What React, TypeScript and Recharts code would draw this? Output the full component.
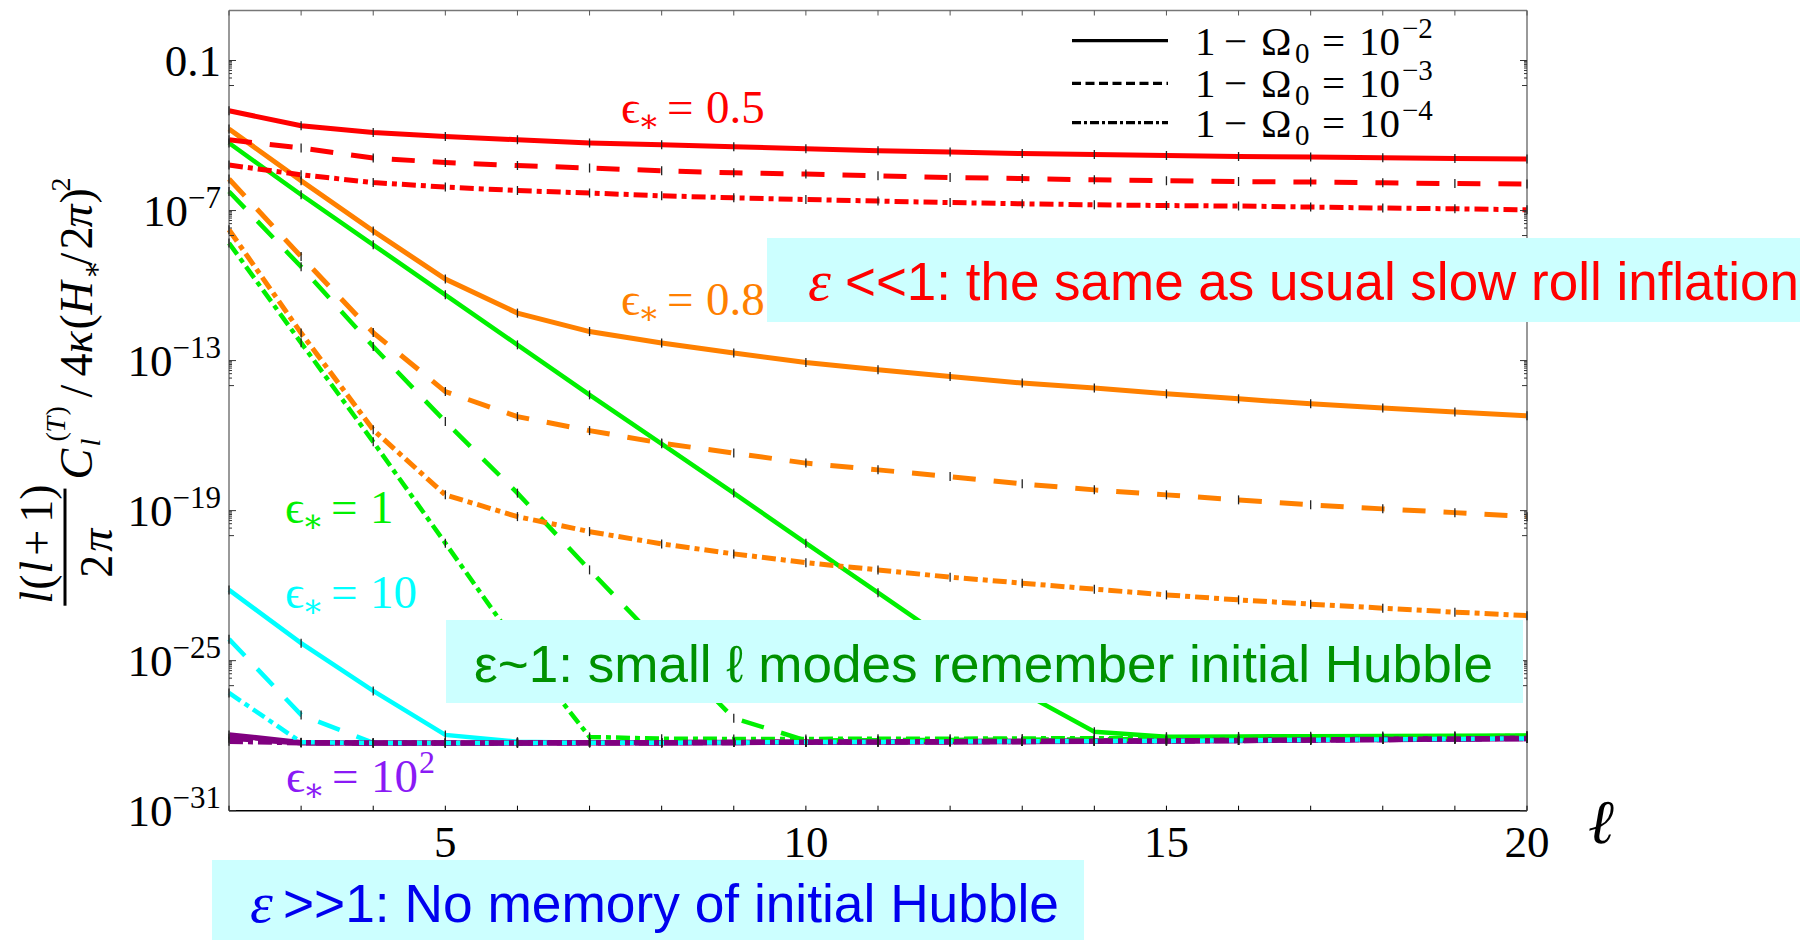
import React from "react";
import { LineChart, Line, XAxis, YAxis } from "recharts";

// multipole index
const ells = [2, 3, 4, 5, 6, 7, 8, 9, 10, 11, 12, 13, 14, 15, 16, 17, 18, 19, 20];

// log10 of l(l+1)C_l^(T)/2π / 4κ(H*/2π)^2 for each ε* and 1-Ω0
const eps05_m2 = [-3.01, -3.61, -3.88, -4.04, -4.17, -4.3, -4.37, -4.45, -4.53, -4.61, -4.66, -4.72, -4.76, -4.8, -4.84, -4.86, -4.89, -4.92, -4.94];
const eps05_m3 = [-4.17, -4.5, -4.9, -5.08, -5.2, -5.3, -5.41, -5.49, -5.54, -5.61, -5.68, -5.72, -5.77, -5.81, -5.84, -5.86, -5.89, -5.92, -5.94];
const eps05_m4 = [-5.18, -5.57, -5.88, -6.06, -6.2, -6.3, -6.41, -6.49, -6.56, -6.62, -6.68, -6.73, -6.77, -6.8, -6.82, -6.86, -6.9, -6.93, -6.97];
const eps08_m2 = [-3.74, -5.81, -7.82, -9.74, -11.1, -11.84, -12.3, -12.7, -13.08, -13.37, -13.64, -13.9, -14.1, -14.33, -14.53, -14.73, -14.9, -15.06, -15.21];
const eps08_m3 = [-5.74, -8.84, -11.88, -14.24, -15.24, -15.8, -16.3, -16.7, -17.1, -17.37, -17.64, -17.93, -18.17, -18.37, -18.57, -18.77, -18.93, -19.08, -19.24];
const eps08_m4 = [-7.77, -11.9, -15.77, -18.37, -19.24, -19.84, -20.33, -20.73, -21.08, -21.37, -21.66, -21.9, -22.14, -22.37, -22.57, -22.74, -22.9, -23.06, -23.2];
const eps1_m2 = [-4.3, -6.37, -8.37, -10.37, -12.37, -14.37, -16.33, -18.3, -20.3, -22.28, -24.27, -26.27, -27.84, -28.04, -28.03, -28.02, -28.01, -28.0, -27.99];
const eps1_m3 = [-6.24, -9.25, -12.44, -15.44, -18.3, -21.37, -24.37, -27.3, -28.19, -28.18, -28.17, -28.16, -28.15, -28.13, -28.11, -28.09, -28.07, -28.05, -28.03];
const eps1_m4 = [-8.3, -12.29, -16.25, -20.3, -24.37, -28.05, -28.12, -28.13, -28.13, -28.12, -28.12, -28.11, -28.1, -28.09, -28.08, -28.06, -28.05, -28.03, -28.01];
const eps10_m2 = [-22.17, -24.3, -26.21, -27.97, -28.24, -28.28, -28.28, -28.27, -28.26, -28.25, -28.24, -28.23, -28.22, -28.21, -28.19, -28.17, -28.15, -28.13, -28.11];
const eps10_m3 = [-24.14, -27.17, -28.29, -28.29, -28.29, -28.28, -28.28, -28.27, -28.26, -28.25, -28.24, -28.23, -28.22, -28.21, -28.19, -28.17, -28.15, -28.13, -28.11];
const eps10_m4 = [-26.29, -28.26, -28.29, -28.29, -28.29, -28.28, -28.28, -28.27, -28.26, -28.25, -28.24, -28.23, -28.22, -28.21, -28.19, -28.17, -28.15, -28.13, -28.11];
const eps100_m2 = [-27.97, -28.28, -28.29, -28.29, -28.29, -28.28, -28.28, -28.27, -28.26, -28.25, -28.24, -28.23, -28.22, -28.21, -28.19, -28.17, -28.15, -28.13, -28.11];
const eps100_m3 = [-28.1, -28.28, -28.29, -28.29, -28.29, -28.28, -28.28, -28.27, -28.26, -28.25, -28.24, -28.23, -28.22, -28.21, -28.19, -28.17, -28.15, -28.13, -28.11];
const eps100_m4 = [-28.22, -28.28, -28.29, -28.29, -28.29, -28.28, -28.28, -28.27, -28.26, -28.25, -28.24, -28.23, -28.22, -28.21, -28.19, -28.17, -28.15, -28.13, -28.11];

// labelled decades on the y axis
const yMajorExps = [-1, -7, -13, -19, -25, -31];
const xLabelTicks = [5, 10, 15, 20];
const legendExps = ["2", "3", "4"];

const RED = "#FF0000";
const ORANGE = "#FF8000";
const GREEN = "#00F000";
const CYAN = "#00FFFF";
const PURPLE = "#800080";

const DASH = "23 18";
const DOTDASH = "14 5 5 5";

const SERIF = '"Liberation Serif", "Times New Roman", "DejaVu Serif", serif';
const SANS = '"Liberation Sans", Arial, "DejaVu Sans", sans-serif';

type Series = { key: string; values: number[]; color: string; dash?: string; width: number };

// drawn solid first, then dashed, then dot-dashed
const series: Series[] = [
  { key: "r2", values: eps05_m2, color: RED, width: 5 },
  { key: "o2", values: eps08_m2, color: ORANGE, width: 5 },
  { key: "g2", values: eps1_m2, color: GREEN, width: 4.5 },
  { key: "c2", values: eps10_m2, color: CYAN, width: 4.5 },
  { key: "p2", values: eps100_m2, color: PURPLE, width: 5.5 },
  { key: "r3", values: eps05_m3, color: RED, dash: DASH, width: 5 },
  { key: "o3", values: eps08_m3, color: ORANGE, dash: DASH, width: 5 },
  { key: "g3", values: eps1_m3, color: GREEN, dash: DASH, width: 4.5 },
  { key: "c3", values: eps10_m3, color: CYAN, dash: DASH, width: 4.5 },
  { key: "p3", values: eps100_m3, color: PURPLE, dash: DASH, width: 5.5 },
  { key: "r4", values: eps05_m4, color: RED, dash: DOTDASH, width: 5 },
  { key: "o4", values: eps08_m4, color: ORANGE, dash: DOTDASH, width: 5 },
  { key: "g4", values: eps1_m4, color: GREEN, dash: DOTDASH, width: 4.5 },
  { key: "c4", values: eps10_m4, color: CYAN, dash: DOTDASH, width: 4.5 },
  { key: "p4", values: eps100_m4, color: PURPLE, dash: DOTDASH, width: 5.5 },
];

const data = ells.map((l, i) => {
  const row: Record<string, number> = { l };
  series.forEach((s) => {
    row[s.key] = Math.pow(10, s.values[i]);
  });
  return row;
});

// major decades plus the log minor ticks of the decade just below each
const yTicks: number[] = [];
yMajorExps.forEach((k) => {
  yTicks.push(Math.pow(10, k));
  if (k - 1 >= -31) {
    for (let m = 1; m <= 9; m++) yTicks.push(m * Math.pow(10, k - 1));
  }
});

function tickKind(v: number): "major" | "decade" | "minor" {
  const lg = Math.log10(v);
  const r = Math.round(lg);
  if (Math.abs(lg - r) < 1e-6) return yMajorExps.includes(r) ? "major" : "decade";
  return "minor";
}

function YTick(props: any) {
  const { x, y, payload, side } = props;
  const kind = tickKind(payload.value);
  const len = kind === "major" ? 7 : kind === "decade" ? 5 : 3;
  const dir = side === "left" ? 1 : -1;
  const exp = Math.round(Math.log10(payload.value));
  return (
    <g>
      <line x1={x} x2={x + dir * len} y1={y} y2={y} stroke="#333" strokeWidth={1} />
      {side === "left" && kind === "major" && (
        <text x={x - 8} y={y + 15} textAnchor="end" fontFamily={SERIF} fontSize={45} fill="#000">
          {exp === -1 ? (
            "0.1"
          ) : (
            <>
              <tspan>10</tspan>
              <tspan dy={-18} fontSize={31}>
                {"\u2212" + Math.abs(exp)}
              </tspan>
            </>
          )}
        </text>
      )}
    </g>
  );
}

function XTick(props: any) {
  const { x, y, payload, side } = props;
  const l = payload.value;
  const down = side === "top";
  return (
    <g>
      <line x1={x} x2={x} y1={y} y2={down ? y + 5 : y - 5} stroke={down ? "#555" : "#000"} strokeWidth={1} />
      {!down && xLabelTicks.includes(l) && (
        <text x={x} y={y + 46} textAnchor="middle" fontFamily={SERIF} fontSize={45} fill="#000">
          {l}
        </text>
      )}
    </g>
  );
}

const renderMark = (p: any) => (
  <line
    key={`${p.dataKey}-${p.index}`}
    x1={p.cx}
    x2={p.cx}
    y1={p.cy - 4.5}
    y2={p.cy + 4.5}
    stroke="#222"
    strokeWidth={1.3}
  />
);

function EpsLabel({ x, y, color, value, sup }: { x: number; y: number; color: string; value: string; sup?: string }) {
  return (
    <text fill={color} fontFamily={SERIF} fontSize={47}>
      <tspan x={x} y={y}>{"\u03F5"}</tspan>
      <tspan x={x + 17} y={y + 9} fontSize={32}>{"\u2217"}</tspan>
      <tspan x={x + 46} y={y}>=</tspan>
      <tspan x={x + 85} y={y}>{value}</tspan>
      {sup && (
        <tspan x={x + 133} y={y - 19} fontSize={32}>
          {sup}
        </tspan>
      )}
    </text>
  );
}

function LegendRow({ y, lineY, dash, exp }: { y: number; lineY: number; dash?: string; exp: string }) {
  return (
    <g>
      <line x1={1072} x2={1168} y1={lineY} y2={lineY} stroke="#000" strokeWidth={3.3} strokeDasharray={dash} />
      <text fontFamily={SERIF} fontSize={41} fill="#000">
        <tspan x={1195} y={y}>1</tspan>
        <tspan x={1224} y={y}>{"\u2212"}</tspan>
        <tspan x={1261} y={y}>{"\u03A9"}</tspan>
        <tspan x={1295} y={y + 8} fontSize={29}>0</tspan>
        <tspan x={1322} y={y}>=</tspan>
        <tspan x={1359} y={y}>10</tspan>
        <tspan x={1402} y={y - 17} fontSize={29}>{"\u2212" + exp}</tspan>
      </text>
    </g>
  );
}

function Overlay() {
  return (
    <svg
      width={1800}
      height={932}
      style={{ position: "absolute", left: 0, top: 0, pointerEvents: "none", overflow: "visible" }}
    >
      <g transform="translate(-8 -8)">
        {/* y-axis title */}
        <g fontFamily={SERIF} fontSize={46} fill="#000">
          <text transform="translate(52 605.7) rotate(-90)">
            <tspan x={2} y={0} fontStyle="italic">l</tspan>
            <tspan x={16} y={0}>(</tspan>
            <tspan x={32} y={0} fontStyle="italic">l</tspan>
            <tspan x={50} y={0}>+</tspan>
            <tspan x={83} y={0}>1</tspan>
            <tspan x={106} y={0}>)</tspan>
          </text>
          <line x1={65} x2={65} y1={488.6} y2={605.7} stroke="#000" strokeWidth={3} />
          <text transform="translate(112 605.7) rotate(-90)">
            <tspan x={28} y={0}>2</tspan>
            <tspan x={54} y={0} fontStyle="italic">{"\u03C0"}</tspan>
          </text>
          <text transform="translate(92 479.5) rotate(-90)">
            <tspan x={0} y={0} fontStyle="italic">C</tspan>
            <tspan x={33} y={8} fontSize={28} fontStyle="italic">l</tspan>
            <tspan x={38} y={-27} fontSize={28}>(</tspan>
            <tspan x={47} y={-27} fontSize={28} fontStyle="italic">T</tspan>
            <tspan x={64} y={-27} fontSize={28}>)</tspan>
            <tspan x={82} y={0}>/</tspan>
            <tspan x={103} y={0}>4</tspan>
            <tspan x={126} y={0} fontStyle="italic">{"\u03BA"}</tspan>
            <tspan x={150} y={0}>(</tspan>
            <tspan x={165} y={0} fontStyle="italic">H</tspan>
            <tspan x={200} y={9} fontSize={28}>{"\u2217"}</tspan>
            <tspan x={214} y={0}>/</tspan>
            <tspan x={230} y={0}>2</tspan>
            <tspan x={252} y={0} fontStyle="italic">{"\u03C0"}</tspan>
            <tspan x={276} y={0}>)</tspan>
            <tspan x={288} y={-22} fontSize={28}>2</tspan>
          </text>
        </g>

        {/* x-axis title */}
        <text x={1588} y={843} fontFamily={SERIF} fontStyle="italic" fontSize={62} fill="#000">
          {"\u2113"}
        </text>

        {/* legend */}
        <LegendRow y={55} lineY={40.7} exp={legendExps[0]} />
        <LegendRow y={96.7} lineY={83.3} dash="9 4.5" exp={legendExps[1]} />
        <LegendRow y={136.7} lineY={122.7} dash="9 3 3 3" exp={legendExps[2]} />

        {/* curve labels */}
        <EpsLabel x={621} y={123} color={RED} value="0.5" />
        <EpsLabel x={621} y={315} color={ORANGE} value="0.8" />
        <EpsLabel x={285} y={523.3} color={GREEN} value="1" />
        <EpsLabel x={285} y={608.3} color={CYAN} value="10" />
        <EpsLabel x={286} y={791.7} color="#8A1AF5" value="10" sup="2" />

        {/* regime notes */}
        <rect x={767} y={238} width={1039} height={84} fill="#CCFFFF" />
        <text x={808} y={300} fontFamily={SERIF} fontStyle="italic" fontSize={58} fill="#FF0000">
          {"\u03B5"}
        </text>
        <text
          x={845}
          y={300}
          fontFamily={SANS}
          fontSize={53}
          fill="#FF0000"
          textLength={954}
          lengthAdjust="spacingAndGlyphs"
        >
          {"<<1: the same as usual slow roll inflation"}
        </text>

        <rect x={446} y={620} width={1077} height={83} fill="#CCFFFF" />
        <text
          x={474}
          y={681.7}
          fontFamily={SANS}
          fontSize={52}
          fill="#009100"
          textLength={1019}
          lengthAdjust="spacingAndGlyphs"
        >
          {"\u03B5~1: small \u2113 modes remember initial Hubble"}
        </text>

        <rect x={212} y={860} width={872} height={80} fill="#CCFFFF" />
        <text x={250} y={921.7} fontFamily={SERIF} fontStyle="italic" fontSize={58} fill="#0000EE">
          {"\u03B5"}
        </text>
        <text
          x={283}
          y={921.7}
          fontFamily={SANS}
          fontSize={53}
          fill="#0000EE"
          textLength={776}
          lengthAdjust="spacingAndGlyphs"
        >
          {">>1: No memory of initial Hubble"}
        </text>
      </g>
    </svg>
  );
}

export default function App() {
  return (
    <div style={{ position: "relative", width: 1800, height: 932, background: "#fff" }}>
      <LineChart width={1800} height={932} data={data} margin={{ top: 1.5, right: 280, bottom: 128.3, left: 0 }}>
        <XAxis
          xAxisId="b"
          dataKey="l"
          type="number"
          domain={[2, 20]}
          ticks={ells}
          interval={0}
          height={1}
          tickSize={0}
          tickMargin={0}
          tickLine={false}
          axisLine={{ stroke: "#000", strokeWidth: 1.5 }}
          tick={(p: any) => <XTick {...p} side="bottom" />}
        />
        <XAxis
          xAxisId="t"
          orientation="top"
          dataKey="l"
          type="number"
          domain={[2, 20]}
          ticks={ells}
          interval={0}
          height={1}
          tickSize={0}
          tickMargin={0}
          tickLine={false}
          axisLine={{ stroke: "#777", strokeWidth: 1.5 }}
          tick={(p: any) => <XTick {...p} side="top" />}
        />
        <YAxis
          yAxisId="L"
          scale="log"
          domain={[1e-31, 10]}
          allowDataOverflow
          ticks={yTicks}
          interval={0}
          width={221}
          tickSize={0}
          tickMargin={0}
          tickLine={false}
          axisLine={{ stroke: "#777", strokeWidth: 1.5 }}
          tick={(p: any) => <YTick {...p} side="left" />}
        />
        <YAxis
          yAxisId="R"
          orientation="right"
          scale="log"
          domain={[1e-31, 10]}
          allowDataOverflow
          ticks={yTicks}
          interval={0}
          width={1}
          tickSize={0}
          tickMargin={0}
          tickLine={false}
          axisLine={{ stroke: "#777", strokeWidth: 1.5 }}
          tick={(p: any) => <YTick {...p} side="right" />}
        />
        {series.map((s) => (
          <Line
            key={s.key}
            xAxisId="b"
            yAxisId="L"
            type="linear"
            dataKey={s.key}
            stroke={s.color}
            strokeWidth={s.width}
            strokeDasharray={s.dash}
            dot={renderMark}
            activeDot={false}
            isAnimationActive={false}
          />
        ))}
      </LineChart>
      <Overlay />
    </div>
  );
}
